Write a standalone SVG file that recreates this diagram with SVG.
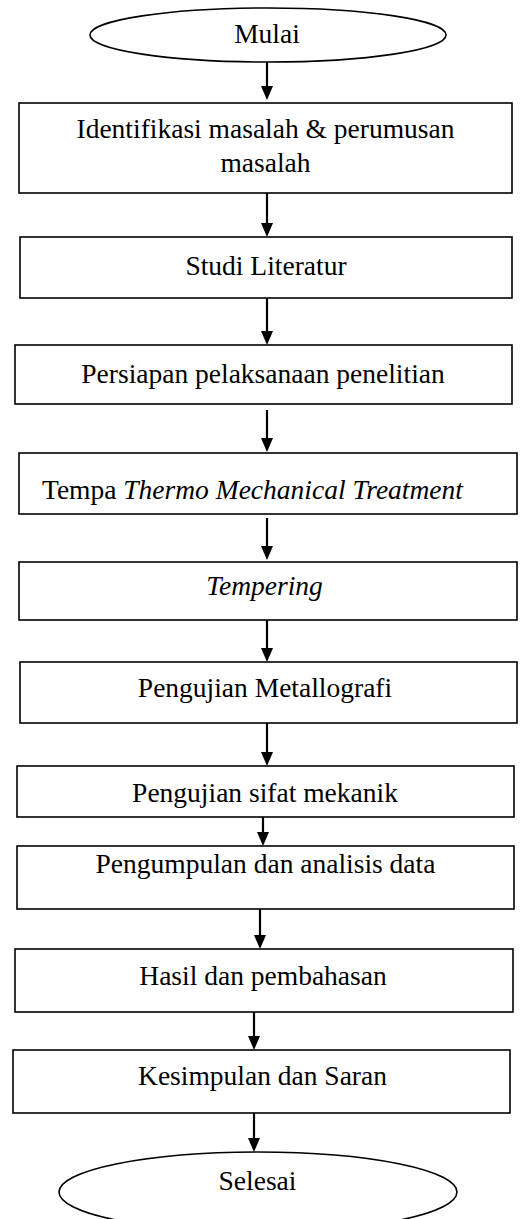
<svg xmlns="http://www.w3.org/2000/svg" width="520" height="1219" viewBox="0 0 520 1219">
<style>
  .box { fill: #ffffff; stroke: #000000; stroke-width: 1.6; }
  .term { fill: #ffffff; stroke: #000000; stroke-width: 1.6; }
  .lbl { font-family: "Liberation Serif", "Times New Roman", serif; font-size: 27.5px; fill: #000000; text-anchor: middle; }
  .it { font-style: italic; }
  .conn { stroke: #000000; stroke-width: 2.2; fill: none; }
</style>
<defs>
  <marker id="arrow" viewBox="0 0 14 12" markerWidth="14" markerHeight="12" refX="6" refY="6" orient="auto" markerUnits="userSpaceOnUse">
    <path d="M0,0 L14,6 L0,12 z" fill="#000000"/>
  </marker>
</defs>
<rect width="520" height="1219" fill="#ffffff"/>

<g id="connectors">
  <line class="conn" x1="267" y1="62" x2="267" y2="92" marker-end="url(#arrow)"/>
  <line class="conn" x1="267" y1="193" x2="267" y2="229" marker-end="url(#arrow)"/>
  <line class="conn" x1="267" y1="298" x2="267" y2="337" marker-end="url(#arrow)"/>
  <line class="conn" x1="267" y1="410" x2="267" y2="444" marker-end="url(#arrow)"/>
  <line class="conn" x1="267" y1="518" x2="267" y2="552" marker-end="url(#arrow)"/>
  <line class="conn" x1="267" y1="620" x2="267" y2="654" marker-end="url(#arrow)"/>
  <line class="conn" x1="267" y1="723" x2="267" y2="758" marker-end="url(#arrow)"/>
  <line class="conn" x1="263" y1="817" x2="263" y2="838" marker-end="url(#arrow)"/>
  <line class="conn" x1="260" y1="909" x2="260" y2="941" marker-end="url(#arrow)"/>
  <line class="conn" x1="254" y1="1012" x2="254" y2="1042" marker-end="url(#arrow)"/>
  <line class="conn" x1="254" y1="1113" x2="254" y2="1144" marker-end="url(#arrow)"/>
</g>

<g id="start">
  <ellipse class="term" cx="268" cy="35" rx="178" ry="27"/>
  <text class="lbl" x="267" y="43">Mulai</text>
</g>

<g id="identifikasi">
  <rect class="box" x="19" y="103" width="493" height="90"/>
  <text class="lbl" x="265.5" y="138">Identifikasi masalah &amp; perumusan</text>
  <text class="lbl" x="265.5" y="172">masalah</text>
</g>

<g id="studi">
  <rect class="box" x="20" y="237" width="492" height="61"/>
  <text class="lbl" x="266" y="275">Studi Literatur</text>
</g>

<g id="persiapan">
  <rect class="box" x="15" y="345" width="497" height="59"/>
  <text class="lbl" x="263" y="383">Persiapan pelaksanaan penelitian</text>
</g>

<g id="tempa">
  <rect class="box" x="19" y="453" width="498" height="61"/>
  <text class="lbl" x="42" y="499" style="text-anchor:start">Tempa <tspan class="it">Thermo Mechanical Treatment</tspan></text>
</g>

<g id="tempering">
  <rect class="box" x="19" y="562" width="498" height="58"/>
  <text class="lbl it" x="264.5" y="595">Tempering</text>
</g>

<g id="metallografi">
  <rect class="box" x="20" y="662" width="497" height="61"/>
  <text class="lbl" x="265" y="697">Pengujian Metallografi</text>
</g>

<g id="mekanik">
  <rect class="box" x="17" y="766" width="497" height="51"/>
  <text class="lbl" x="265" y="802">Pengujian sifat mekanik</text>
</g>

<g id="pengumpulan">
  <rect class="box" x="17" y="846" width="497" height="63"/>
  <text class="lbl" x="265.5" y="873">Pengumpulan dan analisis data</text>
</g>

<g id="hasil">
  <rect class="box" x="15" y="949" width="498" height="63"/>
  <text class="lbl" x="263" y="985">Hasil dan pembahasan</text>
</g>

<g id="kesimpulan">
  <rect class="box" x="13" y="1050" width="497" height="63"/>
  <text class="lbl" x="262.5" y="1085">Kesimpulan dan Saran</text>
</g>

<g id="end">
  <ellipse class="term" cx="258" cy="1192" rx="199" ry="40"/>
  <text class="lbl" x="257.5" y="1190">Selesai</text>
</g>
</svg>
